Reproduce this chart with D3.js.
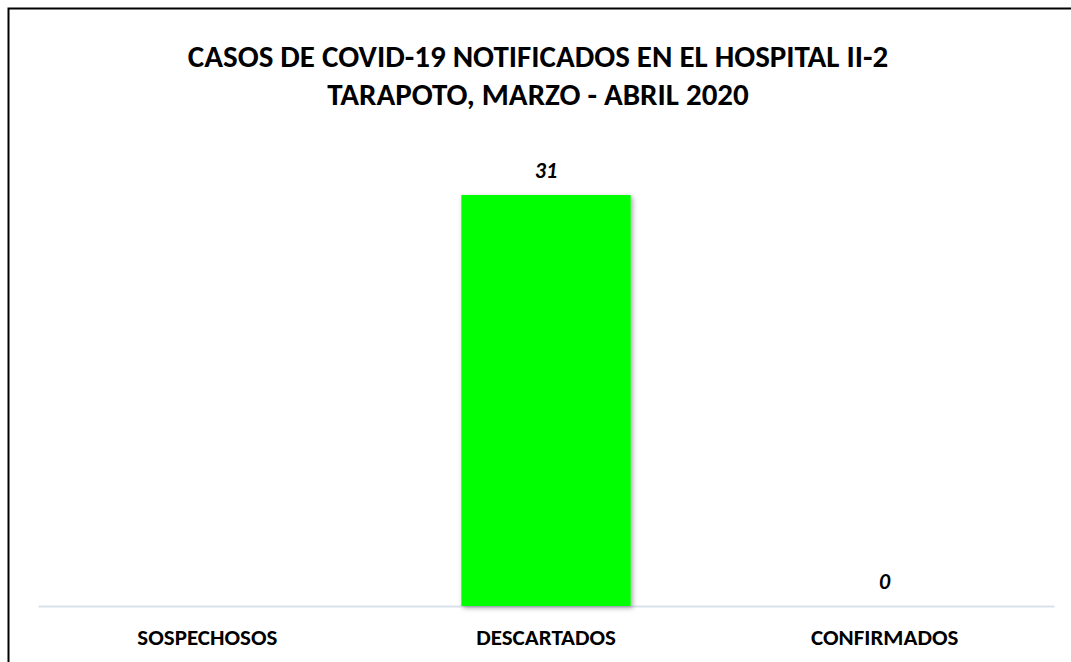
<!DOCTYPE html>
<html><head><meta charset="utf-8">
<script src="https://cdn.jsdelivr.net/npm/d3@7"></script>
<style>
html,body{margin:0;padding:0;background:#fff;}
svg{display:block;}
text{font-family:Carlito,Lato,sans-serif;}
</style></head>
<body>
<svg id="c" width="1071" height="662"></svg>
<script>
const titleLines = ["CASOS DE COVID-19 NOTIFICADOS EN EL HOSPITAL II-2", "TARAPOTO, MARZO - ABRIL 2020"];
const categories = ["SOSPECHOSOS", "DESCARTADOS", "CONFIRMADOS"];
const values = [null, 31, 0];

const svg = d3.select("#c");
const W = 1071, H = 662;
const margin = {left: 38, right: 17, top: 195, bottom: 56};

// chart border (top, left, right edge off-screen)
svg.append("rect").attr("x", 8.5).attr("y", 8.5).attr("width", 1080).attr("height", 700)
  .attr("fill", "#fff").attr("stroke", "#000").attr("stroke-width", 2);

const defs = svg.append("defs");
const f = defs.append("filter").attr("id", "sh").attr("x", "-10%").attr("y", "-10%").attr("width", "130%").attr("height", "130%");
f.append("feDropShadow").attr("dx", 2).attr("dy", 2).attr("stdDeviation", 2.5).attr("flood-color", "#000").attr("flood-opacity", 0.35);

const x = d3.scaleBand().domain(categories).range([margin.left, W - margin.right]).paddingInner(0.5).paddingOuter(0.25);
const y = d3.scaleLinear().domain([0, 31]).range([H - margin.bottom, margin.top]);

// title
svg.append("g").selectAll("text").data(titleLines).join("text")
  .attr("x", 538).attr("y", (d, i) => 67 + i * 38)
  .attr("text-anchor", "middle").attr("font-weight", "bold").attr("font-size", 31).attr("fill", "#000")
  .text(d => d);

// baseline axis
const xAxis = d3.axisBottom(x).tickSize(0).tickPadding(0);
const gx = svg.append("g").attr("transform", `translate(0,${y(0)})`).call(xAxis);
gx.select(".domain").attr("stroke", "#d9e1ec").attr("stroke-width", 2);
gx.selectAll(".tick text").attr("dy", 0).attr("y", 39)
  .attr("font-size", 23).attr("font-weight", "bold").attr("fill", "#000")
  .style("font-family", 'Carlito,Lato,sans-serif');

// bars
const data = categories.map((c, i) => ({c, v: values[i]}));
svg.append("g").selectAll("rect").data(data.filter(d => d.v != null && d.v > 0)).join("rect")
  .attr("x", d => x(d.c)).attr("width", x.bandwidth())
  .attr("y", d => y(d.v)).attr("height", d => y(0) - y(d.v))
  .attr("fill", "#00ff00").attr("filter", "url(#sh)");

// value labels
svg.append("g").selectAll("text").data(data.filter(d => d.v != null)).join("text")
  .attr("x", d => x(d.c) + x.bandwidth() / 2).attr("y", d => y(d.v) - 17)
  .attr("text-anchor", "middle").attr("font-size", 22).attr("font-weight", "bold").attr("font-style", "italic")
  .attr("fill", "#000").text(d => d.v);
</script>
</body></html>
